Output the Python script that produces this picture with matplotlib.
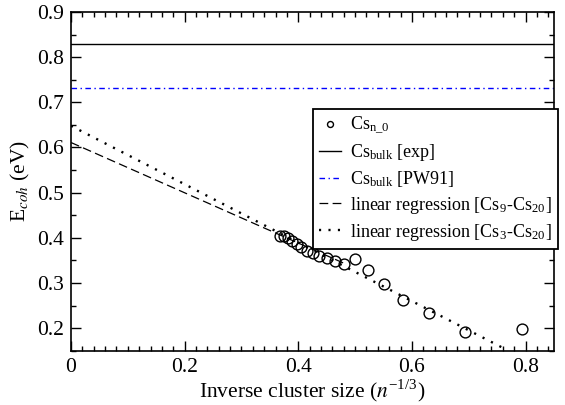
import matplotlib
matplotlib.use("Agg")
import matplotlib.pyplot as plt
from matplotlib.ticker import MultipleLocator

plt.rcParams['font.family'] = ['Liberation Serif', 'DejaVu Serif']
plt.rcParams['mathtext.fontset'] = 'stix'

# data: inverse cluster size n^(-1/3) and cohesive energy (eV)
inv_size = [0.368, 0.375, 0.382, 0.389, 0.397, 0.405, 0.415, 0.425, 0.437,
            0.450, 0.464, 0.481, 0.500, 0.523, 0.550, 0.585, 0.630, 0.693, 0.794]
e_coh = [0.405, 0.404, 0.400, 0.394, 0.386, 0.380, 0.372, 0.366, 0.360,
         0.355, 0.349, 0.342, 0.353, 0.329, 0.298, 0.262, 0.233, 0.192, 0.198]

bulk_exp = 0.828
bulk_pw91 = 0.731

reg9_x = [0.0, 0.48]
reg9_y = [0.611, 0.344]
reg3_x = [0.0, 0.767]
reg3_y = [0.648, 0.152]

fig = plt.figure(figsize=(5.65, 4.05), dpi=100)
ax = fig.add_axes([0.1257, 0.1338, 0.8548, 0.8367])

ax.plot(inv_size, e_coh, 'o', mfc='none', mec='black', ms=7.8, mew=1.0,
        label=r'Cs$_{\mathregular{n\_0}}$', zorder=3)
ax.axhline(bulk_exp, color='black', lw=1.0, label=r'Cs$_{\mathregular{bulk}}$ [exp]')
ax.axhline(bulk_pw91, color='blue', lw=1.0, linestyle=(0, (4, 2.5, 1, 2.5)),
           label=r'Cs$_{\mathregular{bulk}}$ [PW91]')
ax.plot(reg9_x, reg9_y, color='black', lw=0.9, linestyle=(0, (7, 3.5)),
        label=r'linear regression [Cs$_{\mathregular{9}}$-Cs$_{\mathregular{20}}$]')
ax.plot(reg3_x, reg3_y, color='black', lw=1.7, linestyle=(0, (0.9, 3.1)),
        label=r'linear regression [Cs$_{\mathregular{3}}$-Cs$_{\mathregular{20}}$]')

ax.set_xlim(0, 0.85)
ax.set_ylim(0.15, 0.9)
ax.xaxis.set_major_locator(MultipleLocator(0.2))
ax.xaxis.set_minor_locator(MultipleLocator(0.02))
ax.yaxis.set_major_locator(MultipleLocator(0.1))
ax.yaxis.set_minor_locator(MultipleLocator(0.05))
ax.set_xticks([0, 0.2, 0.4, 0.6, 0.8])
ax.set_xticklabels(['0', '0.2', '0.4', '0.6', '0.8'])
ax.tick_params(which='both', direction='in', top=True, right=True, labelsize=15.5)
ax.tick_params(which='major', length=7, width=1, pad=5)
ax.tick_params(which='minor', length=3.5, width=1)
for s in ax.spines.values():
    s.set_linewidth(1.2)

ax.set_xlabel(r'Inverse cluster size ($n^{\mathregular{-1/3}}$)', fontsize=15.5, labelpad=1)
ax.set_ylabel(r'E$_{coh}$ (eV)', fontsize=15.5, labelpad=4)

leg = ax.legend(loc='upper right', bbox_to_anchor=(1.008, 0.715), fontsize=13,
                frameon=True, fancybox=False, edgecolor='black', framealpha=1,
                handlelength=1.2, handletextpad=0.5, borderpad=0.35,
                labelspacing=0.32, markerscale=0.55, borderaxespad=0)
leg.get_frame().set_linewidth(1.3)

fig.savefig('out.png', dpi=100)
